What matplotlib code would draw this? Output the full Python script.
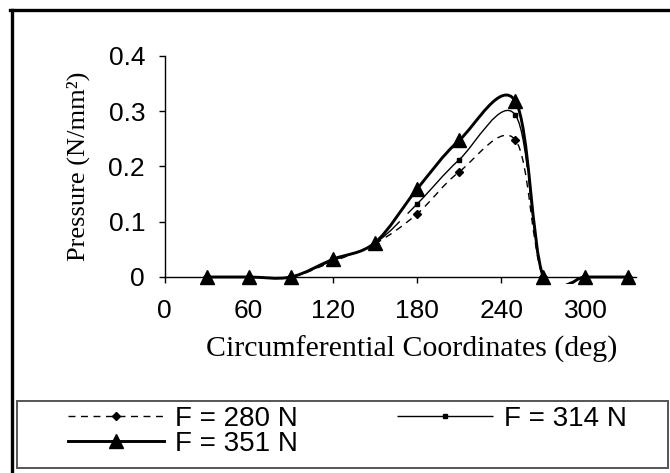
import numpy as np
import matplotlib
matplotlib.use("Agg")
import matplotlib.pyplot as plt
from matplotlib.path import Path
from matplotlib.patches import PathPatch, Rectangle
from matplotlib.lines import Line2D

# data
angle = [30, 60, 90, 120, 150, 180, 210, 250, 270, 300, 330]
p_280 = [0, 0, 0, 0.028, 0.060, 0.114, 0.190, 0.248, 0, 0, 0]
p_314 = [0, 0, 0, 0.030, 0.061, 0.132, 0.212, 0.293, 0, 0, 0]
p_351 = [0, 0, 0, 0.032, 0.062, 0.159, 0.247, 0.318, 0, 0, 0]
labels = ["F = 280 N", "F = 314 N", "F = 351 N"]
xticks = [0, 60, 120, 180, 240, 300]
yticks = [0, 0.1, 0.2, 0.3, 0.4]

SANS = "Liberation Sans"
SERIF = "Liberation Serif"


def smooth_path(x, y):
    # spreadsheet-style smoothed line: cubic bezier through the points
    pts = np.column_stack([x, y]).astype(float)
    n = len(pts)
    verts = [pts[0]]
    codes = [Path.MOVETO]
    for i in range(n - 1):
        p0 = pts[i - 1] if i > 0 else pts[i]
        p1 = pts[i]
        p2 = pts[i + 1]
        p3 = pts[i + 2] if i + 2 < n else pts[i + 1]
        verts += [p1 + (p2 - p0) / 6.0, p2 - (p3 - p1) / 6.0, p2]
        codes += [Path.CURVE4] * 3
    return Path(verts, codes)


ymin = -0.012
px_per_unit = (277 - 55.7) / 0.4
bottom_px = 277 - ymin * px_per_unit
fig = plt.figure(figsize=(6.7, 4.73), dpi=100)
ax = fig.add_axes([164.5 / 670, 1 - bottom_px / 473, (636 - 164.5) / 670, (bottom_px - 55.7) / 473])

styles = [
    dict(lw=1.0, ls=(0, (5, 4)), marker="D", ms=3.8),
    dict(lw=1.0, ls=(0, (150, 8)), marker="s", ms=3.4),
    dict(lw=2.1, ls="-", marker="^", ms=9.5),
]
handles = []
for ys, lab, st in zip([p_280, p_314, p_351], labels, styles):
    patch = PathPatch(smooth_path(angle, ys), fill=False, edgecolor="black",
                      lw=st["lw"], linestyle=st["ls"], zorder=3)
    ax.add_patch(patch)
    ax.plot(angle, ys, ls="none", marker=st["marker"], ms=st["ms"],
            color="black", clip_on=False, zorder=4)
    handles.append(Line2D([], [], color="black", lw=st["lw"], ls=st["ls"],
                          marker=st["marker"], ms=st["ms"], label=lab))

ax.set_xlim(0, 336)
ax.set_ylim(ymin, 0.4)
ax.set_xticks(xticks)
ax.set_yticks(yticks)
ax.set_yticklabels(["0", "0.1", "0.2", "0.3", "0.4"])
for s in ["top", "right"]:
    ax.spines[s].set_visible(False)
ax.spines["bottom"].set_position(("data", 0))
ax.spines["left"].set_bounds(0, 0.4)
for s in ["left", "bottom"]:
    ax.spines[s].set_linewidth(1.0)
ax.tick_params(axis="x", direction="out", length=4, width=1, pad=12, labelsize=19)
ax.tick_params(axis="y", direction="out", length=4, width=1, pad=10, labelsize=19)
for t in ax.get_xticklabels() + ax.get_yticklabels():
    t.set_fontfamily(SANS)

ax.set_xlabel("Circumferential Coordinates (deg)", fontfamily=SERIF, fontsize=21.5)
ax.set_ylabel("Pressure (N/mm²)", fontfamily=SERIF, fontsize=19)
ax.xaxis.set_label_coords(412 / 670, 1 - 336 / 473, transform=fig.transFigure)
ax.yaxis.set_label_coords(90 / 670, 1 - 166 / 473, transform=fig.transFigure)

# outer frame (left and top edges visible)
fig.add_artist(Line2D([11.5 / 670, 11.5 / 670], [0, 1 - 10.5 / 473],
                      transform=fig.transFigure, color="black", lw=2.4))
fig.add_artist(Line2D([10.3 / 670, 1], [1 - 10.5 / 473, 1 - 10.5 / 473],
                      transform=fig.transFigure, color="black", lw=2.4))
# legend box
fig.add_artist(Rectangle((17 / 670, 1 - 468 / 473), 651 / 670, 67 / 473,
                         transform=fig.transFigure, fill=False,
                         edgecolor="#555555", lw=1.4))

fs = 20
fpx = fs * 100 / 72
fig.legend(handles=[handles[0], handles[2], handles[1]],
           labels=[labels[0], labels[2], labels[1]],
           loc="upper left", bbox_to_anchor=(68 / 670, 1 - 406 / 473),
           ncol=2, frameon=False, borderpad=0, borderaxespad=0,
           handlelength=96 / fpx, handletextpad=11 / fpx, columnspacing=3.56,
           labelspacing=-0.03, prop={"family": SANS, "size": fs})

fig.savefig("out.png", dpi=100)
